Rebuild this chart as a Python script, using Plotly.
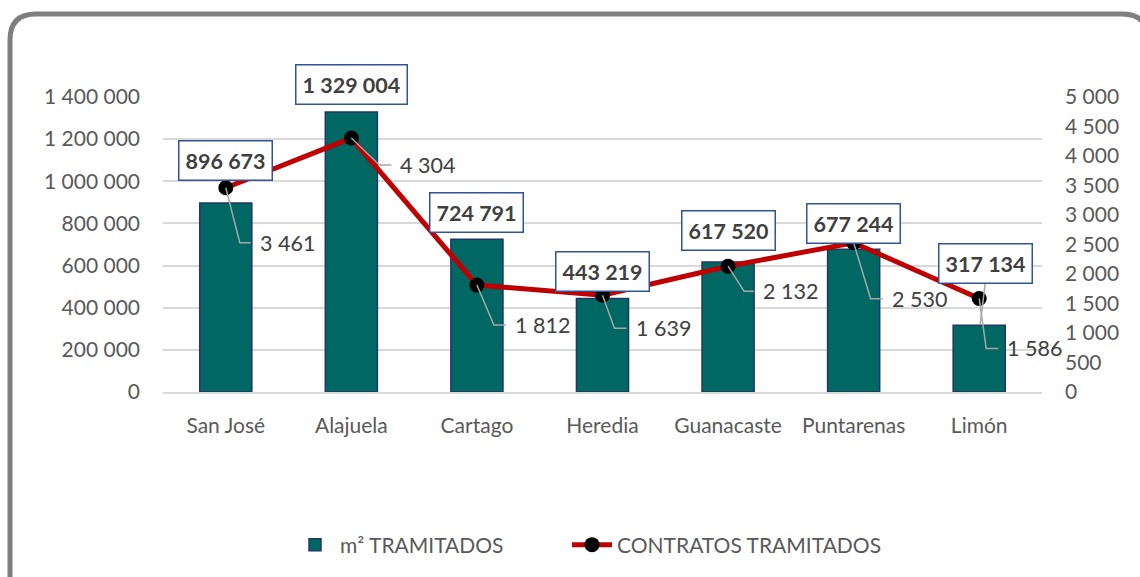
import plotly.graph_objects as go

provincias = ['San José', 'Alajuela', 'Cartago', 'Heredia', 'Guanacaste', 'Puntarenas', 'Limón']
m2_tramitados = [896673, 1329004, 724791, 443219, 617520, 677244, 317134]
contratos_tramitados = [3461, 4304, 1812, 1639, 2132, 2530, 1586]

W, H = 1140, 577
ML, MR, MT, MB = 163, 98, 97, 185
FONT = 'Lato'
GREY_TXT = '#595959'
DARK_TXT = '#404040'


def fmt(v):
    return f'{v:,}'.replace(',', ' ')


def px2paper(x, y):
    return (x - ML) / (W - ML - MR), (H - MB - y) / (H - MT - MB)


fig = go.Figure()
fig.add_trace(go.Bar(
    x=provincias, y=m2_tramitados, name='m² TRAMITADOS', legend='legend',
    marker=dict(color='#006763', line=dict(color='#1F3864', width=1.5)),
))
fig.add_trace(go.Scatter(
    x=provincias, y=contratos_tramitados, name='CONTRATOS TRAMITADOS', yaxis='y2',
    legend='legend2', mode='lines+markers',
    line=dict(color='#C00000', width=5),
    marker=dict(color='black', size=15),
))

# boxed labels above the bars (vertical offset of box centre, px)
bar_lbl_shift = [43, 27, 27, 27, 31, 26, 62]
bar_lbl_xshift = [0, 0, 0, 0, 0, 0, 6]
for cat, v, dy, dx in zip(provincias, m2_tramitados, bar_lbl_shift, bar_lbl_xshift):
    fig.add_annotation(
        x=cat, y=v, xref='x', yref='y', text=f'<b>{fmt(v)}</b>', showarrow=False,
        yshift=dy, xshift=dx, font=dict(family=FONT, size=21.5, color=DARK_TXT),
        bgcolor='white', bordercolor='#2F5597', borderwidth=1.5, borderpad=6,
    )
# leader from the Limón box down to its bar
fig.add_shape(type='path', xref='x', yref='y', xsizemode='pixel', ysizemode='pixel',
              xanchor='Limón', yanchor=m2_tramitados[-1], path='M 1,1 L 6,42',
              line=dict(color='#A6A6A6', width=1.5))

# line labels with elbow leaders (dx, dy to the elbow, then horizontal to dx2)
leaders = [(14, 55, 25), (28, 27, 40), (17, 40, 29), (12, 33, 24), (16, 25, 26), (17, 56, 29), (7, 50, 19)]
for cat, v, (dx, dy, dx2) in zip(provincias, contratos_tramitados, leaders):
    fig.add_shape(type='path', xref='x', yref='y2', xsizemode='pixel', ysizemode='pixel',
                  xanchor=cat, yanchor=v, path=f'M 0,0 L {dx},{-dy} L {dx2},{-dy}',
                  line=dict(color='#A6A6A6', width=1.5))
    fig.add_annotation(
        x=cat, y=v, xref='x', yref='y2', text=fmt(v), showarrow=False,
        xanchor='left', yanchor='middle', xshift=dx2 + 7, yshift=-dy,
        font=dict(family=FONT, size=21.5, color=DARK_TXT),
    )

# rounded chart frame
x0, y0 = px2paper(10, 14)
x1, y1 = px2paper(1148, 588)
r = 26
rx = r / (W - ML - MR)
ry = r / (H - MT - MB)
frame = (f'M {x0},{y1} L {x0},{y0 - ry} Q {x0},{y0} {x0 + rx},{y0} '
         f'L {x1 - rx},{y0} Q {x1},{y0} {x1},{y0 - ry} L {x1},{y1}')
fig.add_shape(type='path', xref='paper', yref='paper', path=frame,
              line=dict(color='#7F7F7F', width=5))

legend_style = dict(orientation='h', xanchor='left', yanchor='middle',
                    y=px2paper(0, 545)[1], font=dict(size=21, color=GREY_TXT),
                    itemwidth=40, bgcolor='rgba(0,0,0,0)')

fig.update_layout(
    width=W, height=H,
    margin=dict(l=ML, r=MR, t=MT, b=MB),
    paper_bgcolor='white', plot_bgcolor='white',
    font=dict(family=FONT, size=21, color=GREY_TXT),
    bargap=0.585,
    showlegend=True,
    legend=dict(x=px2paper(290, 0)[0], **legend_style),
    legend2=dict(x=px2paper(567, 0)[0], **legend_style),
    xaxis=dict(range=[-0.5, len(provincias) - 0.5], autorange=False,
               showgrid=False, showline=True, linecolor='#D9D9D9', linewidth=1.5,
               ticks='', ticklabelstandoff=14),
    yaxis=dict(range=[0, 1400000], dtick=200000, showgrid=True, gridcolor='#D9D9D9',
               gridwidth=1.5, zeroline=False, tickformat=',',
               ticks='', ticklabelstandoff=22),
    yaxis2=dict(range=[0, 5000], dtick=500, overlaying='y', side='right', showgrid=False,
                zeroline=False, tickformat=',', ticks='', ticklabelstandoff=22),
    separators='. ',
)

fig.write_html('out.html', config={'displayModeBar': False},
               post_script="document.body.style.margin='0';document.body.style.overflow='hidden';")
